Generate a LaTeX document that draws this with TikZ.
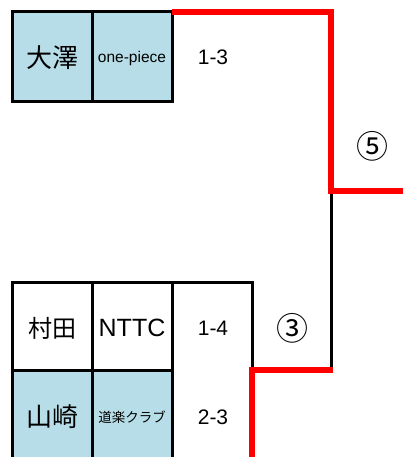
\documentclass[tikz,border=0pt]{standalone}
\usepackage{fontspec}
\setmainfont{Liberation Sans}
\newfontfamily\jp{Noto Sans CJK JP}
\definecolor{cellblue}{HTML}{B7DEE8}
\definecolor{pathred}{HTML}{FF0000}
\tikzset{
  grid/.style={line width=3pt, black},
  win/.style={line width=6pt, pathred},
  lbl/.style={inner sep=0pt, anchor=center},
}
\begin{document}
\begin{tikzpicture}[x=1pt,y=-1pt]
\useasboundingbox (0,0) rectangle (403,457);
% fills
\fill[cellblue] (12,12) rectangle (172,102);
\fill[cellblue] (12,370) rectangle (172,470);
% top entry
\draw[grid] (12,12) rectangle (172,102);
\draw[grid] (92,12) -- (92,102);
% bottom entries
\draw[grid] (12,470) -- (12,282) -- (252,282) -- (252,370);
\draw[grid] (92,282) -- (92,470);
\draw[grid] (172,282) -- (172,470);
\draw[grid] (12,370) -- (172,370);
\draw[grid] (331,191) -- (331,370);
% red winning paths
\draw[win] (172,12) -- (331,12) -- (331,191) -- (406,191);
\draw[win] (333,370) -- (252,370) -- (252,470);
% labels
\node[lbl, font=\jp\fontsize{26}{26}\selectfont] (osawa) at (52,58) {大澤};
\node[lbl, font=\fontsize{15.5}{15.5}\selectfont] (onepiece) at (132,58) {one-piece};
\node[lbl, font=\fontsize{21}{21}\selectfont] (s13) at (213,57) {1-3};
\node[lbl, font=\jp\fontsize{32}{32}\selectfont] (r5) at (372,146) {⑤};
\node[lbl, font=\jp\fontsize{24}{24}\selectfont] (murata) at (52,328) {村田};
\node[lbl, font=\fontsize{25}{25}\selectfont] (nttc) at (132,328) {NTTC};
\node[lbl, font=\fontsize{21}{21}\selectfont] (s14) at (213,328) {1-4};
\node[lbl, font=\jp\fontsize{32}{32}\selectfont] (r3) at (292,328) {③};
\node[lbl, font=\jp\fontsize{26}{26}\selectfont] (yamazaki) at (52,417) {山崎};
\node[lbl, font=\jp\fontsize{13.5}{13.5}\selectfont] (doraku) at (132,417) {道楽クラブ};
\node[lbl, font=\fontsize{21}{21}\selectfont] (s23) at (213,417) {2-3};
\end{tikzpicture}
\end{document}
